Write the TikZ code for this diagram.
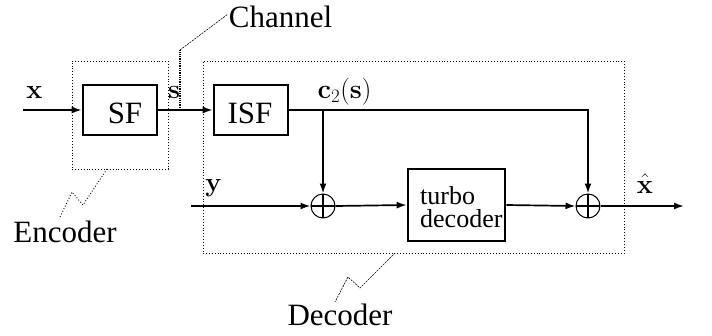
\RequirePackage{fix-cm}
\documentclass[tikz,border=0pt]{standalone}
\usepackage[no-math]{fontspec}
\setmainfont{Liberation Serif}
\usetikzlibrary{arrows.meta}
\begin{document}
\begin{tikzpicture}[x=1pt,y=-1pt,
  blk/.style={draw,line width=2.6pt,inner sep=0pt},
  grp/.style={draw,dotted,line width=0.9pt,inner sep=0pt},
  adder/.style={draw,circle,line width=1pt,minimum size=24pt,inner sep=0pt,
    path picture={\draw[line width=1.4pt] (path picture bounding box.north) -- (path picture bounding box.south)
      (path picture bounding box.west) -- (path picture bounding box.east);}},
  arr/.style={line width=1.7pt,-{Latex[length=10pt,width=7pt]}},
  big/.style={font=\fontsize{31}{34}\selectfont,inner sep=0pt,anchor=base},
  lab/.style={font=\fontsize{27}{30}\selectfont,inner sep=0pt,anchor=base},
  lead/.style={line width=0.6pt,dashed,dash pattern=on 2pt off 1pt}
]
\useasboundingbox (0,0) rectangle (712,335);
% group boxes
\node[grp,minimum width=96pt,minimum height=108pt] (enc) at (120,115) {};
\node[grp,minimum width=421pt,minimum height=192pt] (dec) at (413.5,157) {};
% blocks
\node[blk,minimum width=74pt,minimum height=50pt] (sf) at (120,110) {};
\node[big] (sft) at (125,123) {SF};
\node[blk,minimum width=74pt,minimum height=50pt] (isf) at (251,110) {};
\node[big] (isft) at (250,123) {ISF};
\node[blk,minimum width=97pt,minimum height=72pt] (turbo) at (456.5,205) {};
\node[font=\fontsize{26}{23}\selectfont,align=left,inner sep=0pt,anchor=north west] (turbot) at (420,186) {turbo\\decoder};
\node[adder] (add1) at (323,206) {};
\node[adder] (add2) at (588,206) {};
% coordinates
\coordinate (xin) at (23,110);
\coordinate (br) at (323,110);
\coordinate (yin) at (191,206);
\coordinate (xout) at (684,206);
% connectors
\draw[arr] (xin) -- (sf.west);
\draw[arr] (sf.east) -- (isf.west);
\draw[arr] (isf.east) -| (add2.north);
\draw[arr] (br) -- (add1.north);
\draw[arr] (yin) -- (add1.west);
\draw[arr] (add1.east) -- (turbo.west);
\draw[arr] (turbo.east) -- (add2.west);
\draw[arr] (add2.east) -- (xout);
% labels
\node[lab] (lx) at (34.5,98) {$\mathbf{x}$};
\node[lab] (ls) at (174,98) {$\mathbf{s}$};
\node[lab] (lc) at (344.5,98) {$\mathbf{c}_2(\mathbf{s})$};
\node[lab] (ly) at (213.5,191) {$\mathbf{y}$};
\node[lab] (lxh) at (645,193) {$\hat{\mathbf{x}}$};
\node[big] (chan) at (280.5,27) {Channel};
\node[big] (encl) at (65,242) {Encoder};
\node[big] (decl) at (340,325) {Decoder};
% leaders
\coordinate (cha) at (180,108);
\coordinate (chb) at (180,50);
\coordinate (chc) at (228,14);
\draw[densely dotted,line width=1.3pt] (cha) -- (chb);
\draw[lead] (chb) -- (chc);
\coordinate (ea) at (107,169);
\coordinate (eb) at (83,205);
\coordinate (ec) at (72,192);
\coordinate (ed) at (60,217);
\draw[dotted,line width=0.9pt] (ea) -- (eb) -- (ec) -- (ed);
\coordinate (da) at (395,253);
\coordinate (db) at (360,288);
\coordinate (dc) at (348,277);
\coordinate (dd) at (335,302);
\draw[lead] (da) -- (db) -- (dc) -- (dd);
\end{tikzpicture}
\end{document}
